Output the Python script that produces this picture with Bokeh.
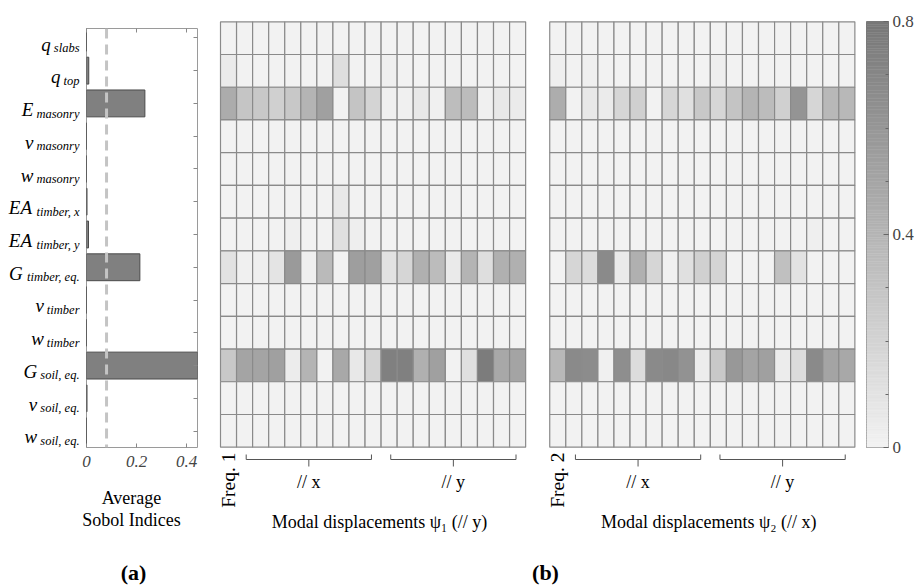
import numpy as np
from bokeh.plotting import figure
from bokeh.layouts import row, column
from bokeh.models import (ColumnDataSource, Range1d, LinearAxis, FixedTicker, Span)
from bokeh.transform import linear_cmap
from bokeh.core.properties import value
from bokeh.embed import file_html
from bokeh.resources import INLINE

# ---------------------------------------------------------------- data
param_symbols = ["q", "q", "E", "v", "w", "EA", "EA", "G", "v", "w", "G", "v", "w"]
param_subscripts = ["slabs", "top", "masonry", "masonry", "masonry",
                    "timber, x", "timber, y", "timber, eq.", "timber", "timber",
                    "soil, eq.", "soil, eq.", "soil, eq."]
avg_sobol = [0.0, 0.009, 0.233, 0.0, 0.0, 0.002, 0.008, 0.213, 0.0, 0.0, 0.48, 0.002, 0.0]
sobol_threshold = 0.08
bar_ticks = [0, 0.2, 0.4]

# Sobol indices per output (columns: frequency, then 9 displacements // x, 9 // y)
psi1_sobol = [
    [0] * 19,
    [0.046, 0, 0, 0, 0, 0, 0, 0.131, 0, 0, 0.02, 0, 0, 0, 0, 0, 0, 0, 0],
    [0.459, 0.295, 0.275, 0.223, 0.275, 0.407, 0.538, 0.0, 0.302, 0.197,
     0.02, 0.013, 0.066, 0.013, 0.348, 0.354, 0.013, 0.066, 0.046],
    [0] * 19,
    [0] * 19,
    [0, 0, 0, 0, 0, 0, 0, 0.066, 0, 0, 0, 0, 0, 0, 0, 0, 0, 0, 0],
    [0, 0, 0, 0, 0.02, 0, 0, 0.118, 0.026, 0, 0, 0, 0, 0, 0, 0, 0, 0, 0],
    [0.105, 0.013, 0.02, 0.092, 0.577, 0.02, 0.367, 0.0, 0.551, 0.538,
     0.105, 0.184, 0.433, 0.354, 0.052, 0.407, 0.131, 0.433, 0.433],
    [0] * 19,
    [0] * 19,
    [0.275, 0.511, 0.511, 0.538, 0.039, 0.407, 0.0, 0.485, 0.066, 0.197,
     0.748, 0.748, 0.433, 0.538, 0.0, 0.118, 0.774, 0.485, 0.511],
    [0] * 19,
    [0] * 19,
]
psi2_sobol = [
    [0] * 19,
    [0.02, 0, 0.02, 0, 0, 0, 0, 0, 0, 0, 0.026, 0, 0, 0, 0, 0, 0, 0, 0],
    [0.452, 0.0, 0.066, 0.046, 0.184, 0.223, 0.0, 0.184, 0.118, 0.275,
     0.184, 0.302, 0.407, 0.354, 0.223, 0.616, 0.184, 0.380, 0.380],
    [0] * 19,
    [0] * 19,
    [0] * 19,
    [0, 0, 0, 0, 0, 0, 0, 0, 0, 0, 0, 0, 0, 0, 0, 0, 0.02, 0, 0],
    [0.0, 0.184, 0.144, 0.682, 0.052, 0.433, 0.184, 0.013, 0.118, 0.223,
     0.197, 0.0, 0.0, 0.0, 0.328, 0.105, 0.0, 0.0, 0.0],
    [0] * 19,
    [0] * 19,
    [0.380, 0.682, 0.669, 0.013, 0.656, 0.144, 0.682, 0.695, 0.630, 0.039,
     0.275, 0.590, 0.511, 0.538, 0.039, 0.144, 0.682, 0.511, 0.485],
    [0] * 19,
    [0] * 19,
]
panel_freq_labels = ["Freq. 1", "Freq. 2"]
panel_titles = ["Modal displacements \u03c8\u2081 (// y)",
                "Modal displacements \u03c8\u2082 (// x)"]
group_names = ["// x", "// y"]
group_first_col = [1, 10]
group_last_col = [9, 18]
cbar_ticks = [0, 0.4, 0.8]
bar_axis_title = ["Average", "Sobol Indices"]
panel_tags = ["(a)", "(b)"]

# ---------------------------------------------------------------- styling / geometry
FONT = "Liberation Serif"
W, H = 921, 585
TOP_H = 478                                 # height of the bar-chart block
LAB_W = 80                                  # width of the parameter-name column
GRID_TOP, GRID_BOTTOM = 21.3, 446.7        # pixel rows of the grids
ROW_H = (GRID_BOTTOM - GRID_TOP) / 13
GRID_LEFT, COL_W = 220.0, 16.06
PANEL_SHIFT = 20.5                          # second grid offset in columns


def row_u(px):
    return (px - GRID_TOP) / ROW_H


def col_u(px):
    return (px - GRID_LEFT) / COL_W


def unaligned(p):
    # each figure keeps its own frame position inside the layout
    if "frame_align" in p.properties():
        p.frame_align = False
    p.grid.visible = False
    return p


GRAY_LO, GRAY_HI = 242, 120
palette = ["#%02x%02x%02x" % (g, g, g)
           for g in np.linspace(GRAY_LO, GRAY_HI, 256).round().astype(int)]

# Times-italic advance widths (1/1000 em) for laying out subscripts
ITALIC_W = dict(a=500, b=500, c=444, d=500, e=444, f=278, g=500, h=500, i=278,
                j=278, k=444, l=278, m=722, n=500, o=500, p=500, q=500, r=389,
                s=389, t=278, u=500, v=444, w=667, x=444, y=444, z=389)
ITALIC_W.update({" ": 250, ",": 250, ".": 250, "E": 611, "A": 611, "G": 722})


def text_w(s, size):
    return sum(ITALIC_W.get(c, 500) for c in s) / 1000.0 * size


n = len(param_symbols)
rows_y = [i + 0.5 for i in range(n)]

# ---------------------------------------------------------------- parameter names
SUB_SIZE, SYM_SIZE, LAB_RIGHT = 12.5, 19, 79
lab = unaligned(figure(width=LAB_W, height=TOP_H, x_range=Range1d(0, LAB_W),
                       y_range=Range1d(row_u(TOP_H), row_u(0)),
                       toolbar_location=None, output_backend="svg", min_border=0,
                       x_axis_location=None, y_axis_location=None,
                       outline_line_color=None))
lab.text(x=[LAB_RIGHT] * n, y=rows_y, text=param_subscripts,
         text_align="right", text_baseline="alphabetic", y_offset=10,
         text_font=value(FONT), text_font_style="italic",
         text_font_size="%.1fpx" % SUB_SIZE, text_color="black")
sym_x = [LAB_RIGHT - text_w(s, SUB_SIZE) - 3 for s in param_subscripts]
lab.text(x=sym_x, y=rows_y, text=param_symbols,
         text_align="right", text_baseline="alphabetic", y_offset=6,
         text_font=value(FONT), text_font_style="italic",
         text_font_size="%dpx" % SYM_SIZE, text_color="black")

# ---------------------------------------------------------------- average Sobol bars
bar = unaligned(figure(width=210 - LAB_W, height=TOP_H, x_range=Range1d(0, 0.443),
                       y_range=Range1d(row_u(446.7), row_u(28.3)),
                       toolbar_location=None, output_backend="svg",
                       min_border_left=86 - LAB_W, min_border_right=13,
                       min_border_top=28, min_border_bottom=TOP_H - 447,
                       y_axis_location="right", outline_line_color="#9a9a9a"))
bar.hbar(y=rows_y, left=0, right=avg_sobol, height=0.82,
         fill_color="#808080", line_color="#4a4a4a", line_width=1)
bar.add_layout(Span(location=sobol_threshold, dimension="height",
                    line_color="#c4c4c4", line_width=3, line_dash="10 6"))

xa = bar.xaxis[0]
xa.ticker = FixedTicker(ticks=bar_ticks)
xa.axis_line_color = None
xa.major_tick_in, xa.major_tick_out = 4, 0
xa.major_tick_line_color = "#888888"
xa.minor_tick_line_color = None
xa.major_label_text_font = FONT
xa.major_label_text_font_style = "italic"
xa.major_label_text_font_size = "17px"
xa.major_label_standoff = 8

top_ax = LinearAxis(ticker=FixedTicker(ticks=bar_ticks), axis_line_color=None,
                    major_tick_in=4, major_tick_out=0,
                    major_tick_line_color="#888888", minor_tick_line_color=None,
                    major_label_text_color=None, major_label_text_font_size="1px",
                    major_label_standoff=0)
bar.add_layout(top_ax, "above")

ya = bar.yaxis[0]
ya.ticker = FixedTicker(ticks=rows_y)
ya.axis_line_color = None
ya.major_tick_in, ya.major_tick_out = 4, 0
ya.major_tick_line_color = "#888888"
ya.minor_tick_line_color = None
ya.major_label_text_color = None
ya.major_label_text_font_size = "1px"
ya.major_label_standoff = 0

# caption block under the bar chart (pixel coordinates)
cap = unaligned(figure(width=210, height=H - TOP_H, x_range=Range1d(0, 210),
                       y_range=Range1d(H, TOP_H),
                       toolbar_location=None, output_backend="svg", min_border=0,
                       x_axis_location=None, y_axis_location=None,
                       outline_line_color=None))
cap.text(x=[131, 131], y=[497, 519], text=bar_axis_title, text_align="center",
         text_baseline="middle", text_font=value(FONT), text_font_size="18px",
         text_color="black")
cap.text(x=[133], y=[572], text=[panel_tags[0]], text_align="center",
         text_baseline="middle", text_font=value(FONT), text_font_size="22px",
         text_font_style="bold", text_color="black")

# ---------------------------------------------------------------- heat maps
heat = unaligned(figure(width=650, height=H, x_range=Range1d(col_u(210), col_u(860)),
                        y_range=Range1d(row_u(H), row_u(0)),
                        toolbar_location=None, output_backend="svg", min_border=0,
                        x_axis_location=None, y_axis_location=None,
                        outline_line_color=None))

cx, cy, cv = [], [], []
for k, mat in enumerate([psi1_sobol, psi2_sobol]):
    for r, vals in enumerate(mat):
        for c, v in enumerate(vals):
            cx.append(c + 0.5 + k * PANEL_SHIFT)
            cy.append(r + 0.5)
            cv.append(v)
cells = ColumnDataSource(dict(x=cx, y=cy, v=cv))
heat.rect(x="x", y="y", width=1, height=1, source=cells,
          fill_color=linear_cmap("v", palette, 0, 0.8),
          line_color="#8a8a8a", line_width=1.2)

b_top, b_mid, b_tick = row_u(454), row_u(459), row_u(466)
bxs, bys, gx, gy, gt = [], [], [], [], []
for k in range(2):
    off = k * PANEL_SHIFT
    for name, c0, c1 in zip(group_names, group_first_col, group_last_col):
        x0, x1 = off + c0 + 0.6, off + c1 + 1 - 0.6
        xm = 0.5 * (x0 + x1)
        bxs += [[x0, x0, x1, x1], [xm, xm]]
        bys += [[b_top, b_mid, b_mid, b_top], [b_mid, b_tick]]
        gx.append(xm)
        gy.append(row_u(481))
        gt.append(name)
heat.multi_line(xs=bxs, ys=bys, line_color="#555555", line_width=1)
heat.text(x=gx, y=gy, text=gt, text_align="center", text_baseline="middle",
          text_font=value(FONT), text_font_size="18px", text_color="black")

heat.text(x=[0.5 + k * PANEL_SHIFT for k in range(2)], y=[row_u(452)] * 2,
          text=panel_freq_labels, angle=np.pi / 2, text_align="right",
          text_baseline="middle", text_font=value(FONT),
          text_font_size="19.5px", text_color="black")
heat.text(x=[9.9 + k * PANEL_SHIFT for k in range(2)], y=[row_u(521)] * 2,
          text=panel_titles, text_align="center", text_baseline="middle",
          text_font=value(FONT), text_font_size="18px", text_color="black")
heat.text(x=[col_u(545)], y=[row_u(572)], text=[panel_tags[1]], text_align="center",
          text_baseline="middle", text_font=value(FONT), text_font_size="22px",
          text_font_style="bold", text_color="black")

# ---------------------------------------------------------------- colour bar
cb = unaligned(figure(width=61, height=H, x_range=Range1d(0, 1),
                      y_range=Range1d(0, 0.8),
                      toolbar_location=None, output_backend="svg",
                      min_border_left=6, min_border_right=33, min_border_top=21,
                      min_border_bottom=H - 447, x_axis_location=None,
                      y_axis_location="right", outline_line_color="#7a7a7a"))
levels = np.linspace(0, 0.8, 161)
grad = ColumnDataSource(dict(b=levels[:-1], t=levels[1:],
                             m=0.5 * (levels[:-1] + levels[1:])))
cmap = linear_cmap("m", palette, 0, 0.8)
cb.quad(left=0, right=1, bottom="b", top="t", source=grad,
        fill_color=cmap, line_color=cmap, line_width=0.5)
ca = cb.yaxis[0]
ca.ticker = FixedTicker(ticks=cbar_ticks, minor_ticks=list(np.arange(0.1, 0.8, 0.1)))
ca.axis_line_color = None
ca.major_tick_in, ca.major_tick_out = 5, 0
ca.minor_tick_in, ca.minor_tick_out = 3, 0
ca.major_tick_line_color = "#666666"
ca.minor_tick_line_color = "#666666"
ca.major_label_text_font = FONT
ca.major_label_text_font_size = "17px"
ca.major_label_standoff = 4

left_block = column(row(lab, bar), cap)
page = row(left_block, heat, cb)
open("out.html", "w").write(file_html(page, INLINE))
